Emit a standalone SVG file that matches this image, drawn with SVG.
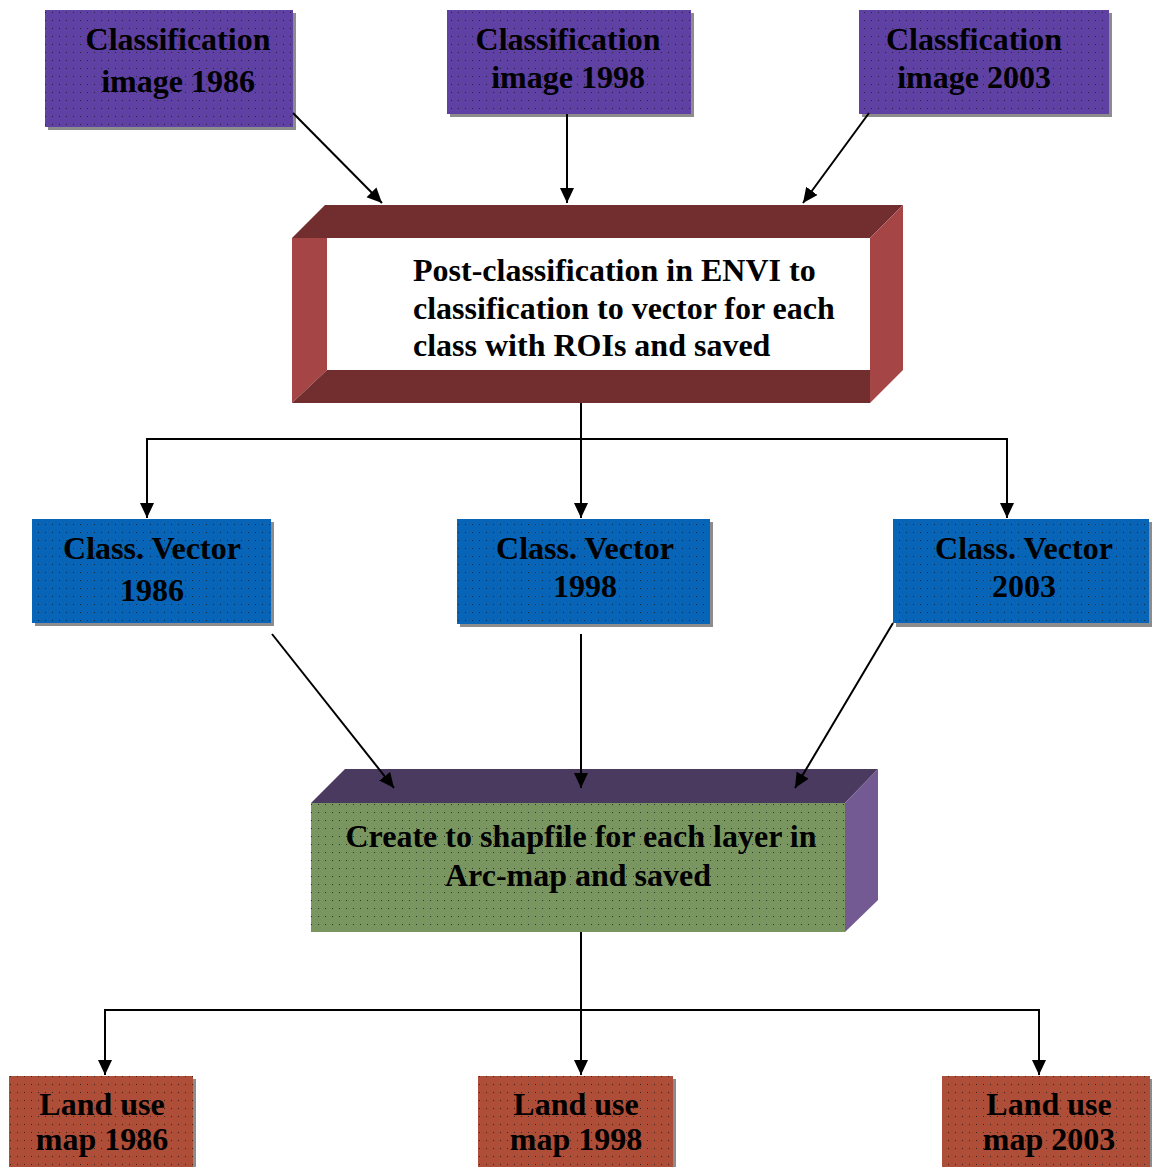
<svg xmlns="http://www.w3.org/2000/svg" width="1152" height="1167" viewBox="0 0 1152 1167">
<style>
.t{font-family:"Liberation Serif","Times New Roman",serif;font-weight:bold;font-size:32px;fill:#000;text-anchor:middle}
.tl{font-family:"Liberation Serif","Times New Roman",serif;font-weight:bold;font-size:32px;fill:#000}
.sh{fill:#8c8c8c}
.purple{fill:#5E41A3}
.blue{fill:#0764B6}
.rust{fill:#AE4E38}
.green{fill:#7A9660}
.dots{fill:url(#dots)}
.ln{fill:none;stroke:#000;stroke-width:2;marker-end:url(#arr)}
</style>
<defs>
<pattern id="dots" width="7" height="8" patternUnits="userSpaceOnUse"><rect x="3" y="4" width="1" height="1" fill="#1a1a1a" fill-opacity="0.8"/></pattern>
<marker id="arr" viewBox="0 0 15 15" markerWidth="15" markerHeight="15" refX="15" refY="7.5" orient="auto" markerUnits="userSpaceOnUse"><path d="M0,0.5 L15,7.5 L0,14.5 z" fill="#000"/></marker>
</defs>
<rect width="1152" height="1167" fill="#fff"/>

<g id="img1986">
<rect class="sh" x="48" y="13" width="248" height="117"/>
<rect class="purple" x="45" y="10" width="248" height="117"/>
<rect class="dots" x="45" y="10" width="248" height="117"/>
<text class="t" x="178" y="50">Classification</text>
<text class="t" x="178" y="92">image 1986</text>
</g>

<g id="img1998">
<rect class="sh" x="450" y="13" width="244" height="104"/>
<rect class="purple" x="447" y="10" width="244" height="104"/>
<rect class="dots" x="447" y="10" width="244" height="104"/>
<text class="t" x="568" y="50">Classification</text>
<text class="t" x="568" y="88">image 1998</text>
</g>

<g id="img2003">
<rect class="sh" x="862" y="13" width="250" height="104"/>
<rect class="purple" x="859" y="10" width="250" height="104"/>
<rect class="dots" x="859" y="10" width="250" height="104"/>
<text class="t" x="974" y="50">Classfication</text>
<text class="t" x="974" y="88">image 2003</text>
</g>

<g id="postclass">
<polygon points="325,205 903,205 870,238 292,238" fill="#722E2F"/>
<polygon points="292,238 327,238 327,370 292,403" fill="#A54545"/>
<polygon points="327,370 870,370 870,403 292,403" fill="#722E2F"/>
<polygon points="870,238 903,205 903,370 870,403" fill="#A54545"/>
<rect x="327" y="238" width="543" height="132" fill="#fff"/>
<text class="tl" x="413" y="281">Post-classification in ENVI to</text>
<text class="tl" x="413" y="319">classification to vector for each</text>
<text class="tl" x="413" y="356">class with ROIs and saved</text>
</g>

<g id="vec1986">
<rect class="sh" x="35" y="522" width="239" height="104"/>
<rect class="blue" x="32" y="519" width="239" height="104"/>
<rect class="dots" x="32" y="519" width="239" height="104"/>
<text class="t" x="152" y="559">Class. Vector</text>
<text class="t" x="152" y="601">1986</text>
</g>

<g id="vec1998">
<rect class="sh" x="460" y="522" width="253" height="105"/>
<rect class="blue" x="457" y="519" width="253" height="105"/>
<rect class="dots" x="457" y="519" width="253" height="105"/>
<text class="t" x="585" y="559">Class. Vector</text>
<text class="t" x="585" y="597">1998</text>
</g>

<g id="vec2003">
<rect class="sh" x="896" y="522" width="256" height="105"/>
<rect class="blue" x="893" y="519" width="256" height="104"/>
<rect class="dots" x="893" y="519" width="256" height="104"/>
<text class="t" x="1024" y="559">Class. Vector</text>
<text class="t" x="1024" y="597">2003</text>
</g>

<g id="shapefile">
<polygon points="345,769 878,769 845,803 311,803" fill="#4B3A5F"/>
<polygon points="845,803 878,769 878,900 845,932" fill="#735A92"/>
<rect class="green" x="311" y="803" width="534" height="129"/>
<rect class="dots" x="311" y="803" width="534" height="129"/>
<text class="t" x="581" y="847">Create to shapfile for each layer in</text>
<text class="t" x="578" y="886">Arc-map and saved</text>
</g>

<g id="map1986">
<rect class="sh" x="12" y="1079" width="184" height="91"/>
<rect class="rust" x="9" y="1076" width="184" height="91"/>
<rect class="dots" x="9" y="1076" width="184" height="91"/>
<text class="t" x="102" y="1115">Land use</text>
<text class="t" x="102" y="1150">map 1986</text>
</g>

<g id="map1998">
<rect class="sh" x="481" y="1079" width="195" height="91"/>
<rect class="rust" x="478" y="1076" width="195" height="91"/>
<rect class="dots" x="478" y="1076" width="195" height="91"/>
<text class="t" x="576" y="1115">Land use</text>
<text class="t" x="576" y="1150">map 1998</text>
</g>

<g id="map2003">
<rect class="sh" x="945" y="1079" width="207" height="91"/>
<rect class="rust" x="942" y="1076" width="208" height="91"/>
<rect class="dots" x="942" y="1076" width="208" height="91"/>
<text class="t" x="1049" y="1115">Land use</text>
<text class="t" x="1049" y="1150">map 2003</text>
</g>

<g id="connectors">
<path class="ln" d="M293,113 L382,203"/>
<path class="ln" d="M567,114 L567,203"/>
<path class="ln" d="M869,113 L803,203"/>
<path class="ln" d="M581,403 L581,518"/>
<path class="ln" d="M581,439 H147 V518"/>
<path class="ln" d="M581,439 H1007 V518"/>
<path class="ln" d="M272,634 L394,788"/>
<path class="ln" d="M581,634 L581,788"/>
<path class="ln" d="M893,623 L795,788"/>
<path class="ln" d="M581,932 L581,1075"/>
<path class="ln" d="M581,1010 H105 V1075"/>
<path class="ln" d="M581,1010 H1039 V1075"/>
</g>
</svg>
